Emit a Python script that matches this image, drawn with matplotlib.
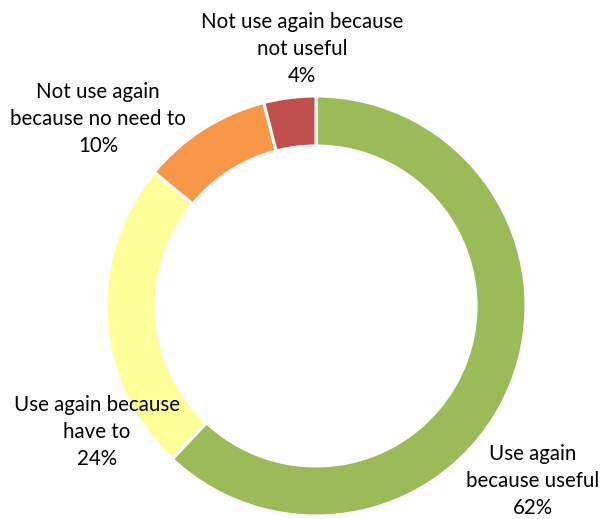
import matplotlib.pyplot as plt

plt.rcParams['font.family'] = ['Lato', 'DejaVu Sans']

labels = ['Use again\nbecause useful', 'Use again because\nhave to',
          'Not use again\nbecause no need to', 'Not use again because\nnot useful']
shares = [62, 24, 10, 4]
colors = ['#9BBB59', '#FFFF99', '#F79646', '#C0504D']

# label anchor points in pixel space (x, y from top)
label_pos = [(533, 481), (97, 432), (98, 119), (302, 49)]

W, H = 604, 519
fig = plt.figure(figsize=(W / 100, H / 100), dpi=100)
ax = fig.add_axes([0, 0, 1, 1])

ax.pie(shares, colors=colors, startangle=90, counterclock=False,
       center=(316, H - 306), radius=210,
       wedgeprops=dict(width=50, edgecolor='white', linewidth=2.2))

# pie() resets the limits, so set them afterwards
ax.set_xlim(0, W)
ax.set_ylim(0, H)
ax.set_aspect('equal')
ax.axis('off')

for lab, val, (px, py) in zip(labels, shares, label_pos):
    ax.text(px, H - py, f'{lab}\n{val}%', ha='center', va='center',
            fontsize=14.8, color='black', linespacing=1.42)

fig.savefig('out.png', dpi=100)
